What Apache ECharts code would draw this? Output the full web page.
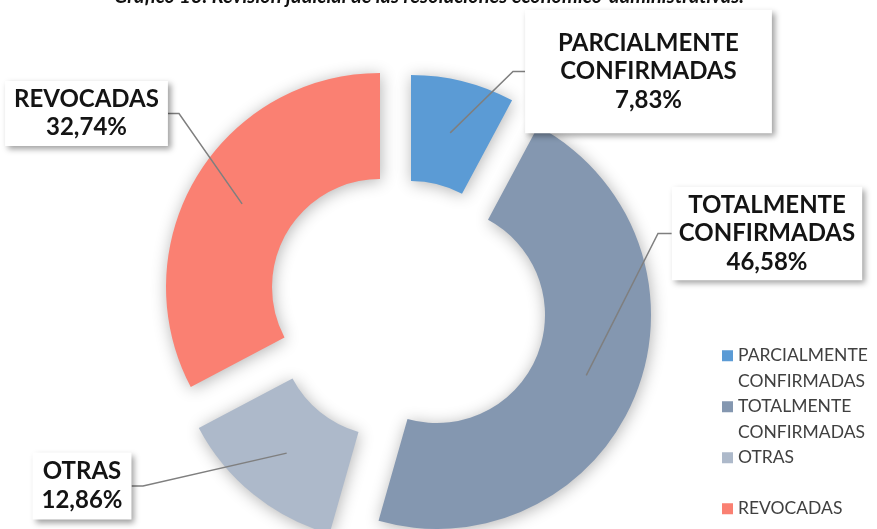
<!DOCTYPE html>
<html><head><meta charset="utf-8">
<script src="https://cdn.jsdelivr.net/npm/echarts@6/dist/echarts.min.js"></script>
<style>html,body{margin:0;padding:0;background:#fff}#c{width:877px;height:529px}</style>
</head><body><div id="c"></div>
<script>
// ---- data ----
const categories = ['PARCIALMENTE CONFIRMADAS', 'TOTALMENTE CONFIRMADAS', 'OTRAS', 'REVOCADAS'];
const values = [7.83, 46.58, 12.86, 32.74];
const colors = ['#5B9BD5', '#8497B0', '#ADB9CA', '#FA8072'];
const titleText = 'Gráfico 13. Revisión judicial de las resoluciones económico-administrativas.';

// ---- layout (positions / sizes only) ----
const sliceCenters = [[411, 289], [437, 315], [388, 328], [380, 287]];
const labelCenters = [[648.5, 71.5], [767, 233.5], [82, 486], [86.5, 113.5]];
const elbows = [[513, 71.5], [658, 233.5], [143, 486], [179, 113.5]];
const labelPadding = [[19, 33], [4, 7], [5, 9], [4, 9]];
const R0 = 108, R1 = 214;

const total = values.reduce((a, b) => a + b, 0);
const midAngles = [];
let acc = 0;
values.forEach(v => { midAngles.push((acc + v / 2) / total * 360); acc += v; });

function fmtLabel(name, v) {
  return name.split(' ').join('\n') + '\n' + v.toFixed(2).replace('.', ',') + '%';
}

const base = {
  type: 'pie', radius: [R0, R1], startAngle: 90, clockwise: true,
  avoidLabelOverlap: false, silent: true, animation: false,
  emphasis: { disabled: true }
};

// ring slices (each slice drawn exploded around its own centre)
const sliceSeries = categories.map((cat, s) => Object.assign({}, base, {
  id: 'anillo' + s, z: 2,
  center: sliceCenters[s],
  label: { show: false }, labelLine: { show: false },
  data: categories.map((c, i) => ({
    name: c, value: values[i],
    itemStyle: i === s
      ? { color: colors[i], borderWidth: 0, shadowBlur: 16, shadowColor: 'rgba(0,0,0,0.3)', shadowOffsetX: 1, shadowOffsetY: 2 }
      : { color: 'rgba(0,0,0,0)', borderWidth: 0, shadowBlur: 0 }
  }))
}));

// callouts drawn above all slices
const labelSeries = categories.map((cat, s) => Object.assign({}, base, {
  id: 'etiqueta' + s, z: 5,
  center: sliceCenters[s],
  label: { position: 'outside' },
  data: categories.map((c, i) => i === s ? {
    name: c, value: values[i],
    itemStyle: { color: 'rgba(0,0,0,0)', borderWidth: 0 },
    label: {
      show: true, position: 'outside',
      formatter: p => fmtLabel(p.name, p.value),
      fontFamily: 'Lato', fontWeight: 'bold', fontSize: 24, lineHeight: 28.5, color: '#141414',
      align: 'center',
      backgroundColor: '#ffffff', padding: labelPadding[i],
      shadowColor: 'rgba(0,0,0,0.38)', shadowBlur: 6, shadowOffsetX: 3, shadowOffsetY: 3
    },
    labelLine: { show: true, lineStyle: { color: '#7f7f7f', width: 1.5 } }
  } : {
    name: c, value: values[i],
    itemStyle: { color: 'rgba(0,0,0,0)', borderWidth: 0 },
    label: { show: false }, labelLine: { show: false }
  }),
  labelLayout: function (p) {
    if (p.dataIndex !== s) return {};
    const cx = sliceCenters[s][0], cy = sliceCenters[s][1];
    const a = midAngles[s] * Math.PI / 180;
    const rm = (R0 + R1) / 2;
    const start = [cx + rm * Math.sin(a), cy - rm * Math.cos(a)];
    const lx = labelCenters[s][0], ly = labelCenters[s][1];
    const w = p.labelRect.width;
    const endX = lx > cx ? lx - w / 2 : lx + w / 2;
    return {
      x: lx, y: ly, align: 'center', verticalAlign: 'middle',
      labelLinePoints: [start, elbows[s].slice(), [endX, elbows[s][1]]]
    };
  }
}));

const chart = echarts.init(document.getElementById('c'), null, { renderer: 'canvas' });
chart.setOption({
  backgroundColor: '#ffffff',
  animation: false,
  graphic: [{
    type: 'text', x: 429, y: -3, silent: true,
    style: { text: titleText, font: 'italic bold 20px Lato', fill: '#111111', align: 'center', verticalAlign: 'middle' }
  }],
  legend: {
    orient: 'vertical', left: 722, top: 343, height: 260, padding: 0, itemGap: 0,
    itemWidth: 11, itemHeight: 51,
    icon: 'path://M0,0L0.01,0M0,7.25L11,7.25L11,18.25L0,18.25ZM0,51L0.01,51',
    selectedMode: false,
    data: categories.map((c, i) => ({ name: c, itemStyle: { color: colors[i], borderWidth: 0 } })),
    formatter: n => n.indexOf(' ') >= 0 ? n.split(' ').join('\n') : n + '\n ',
    textStyle: { fontFamily: 'Lato', fontSize: 17.5, lineHeight: 25.5, color: '#404040' }
  },
  series: sliceSeries.concat(labelSeries)
});
</script>
</body></html>
